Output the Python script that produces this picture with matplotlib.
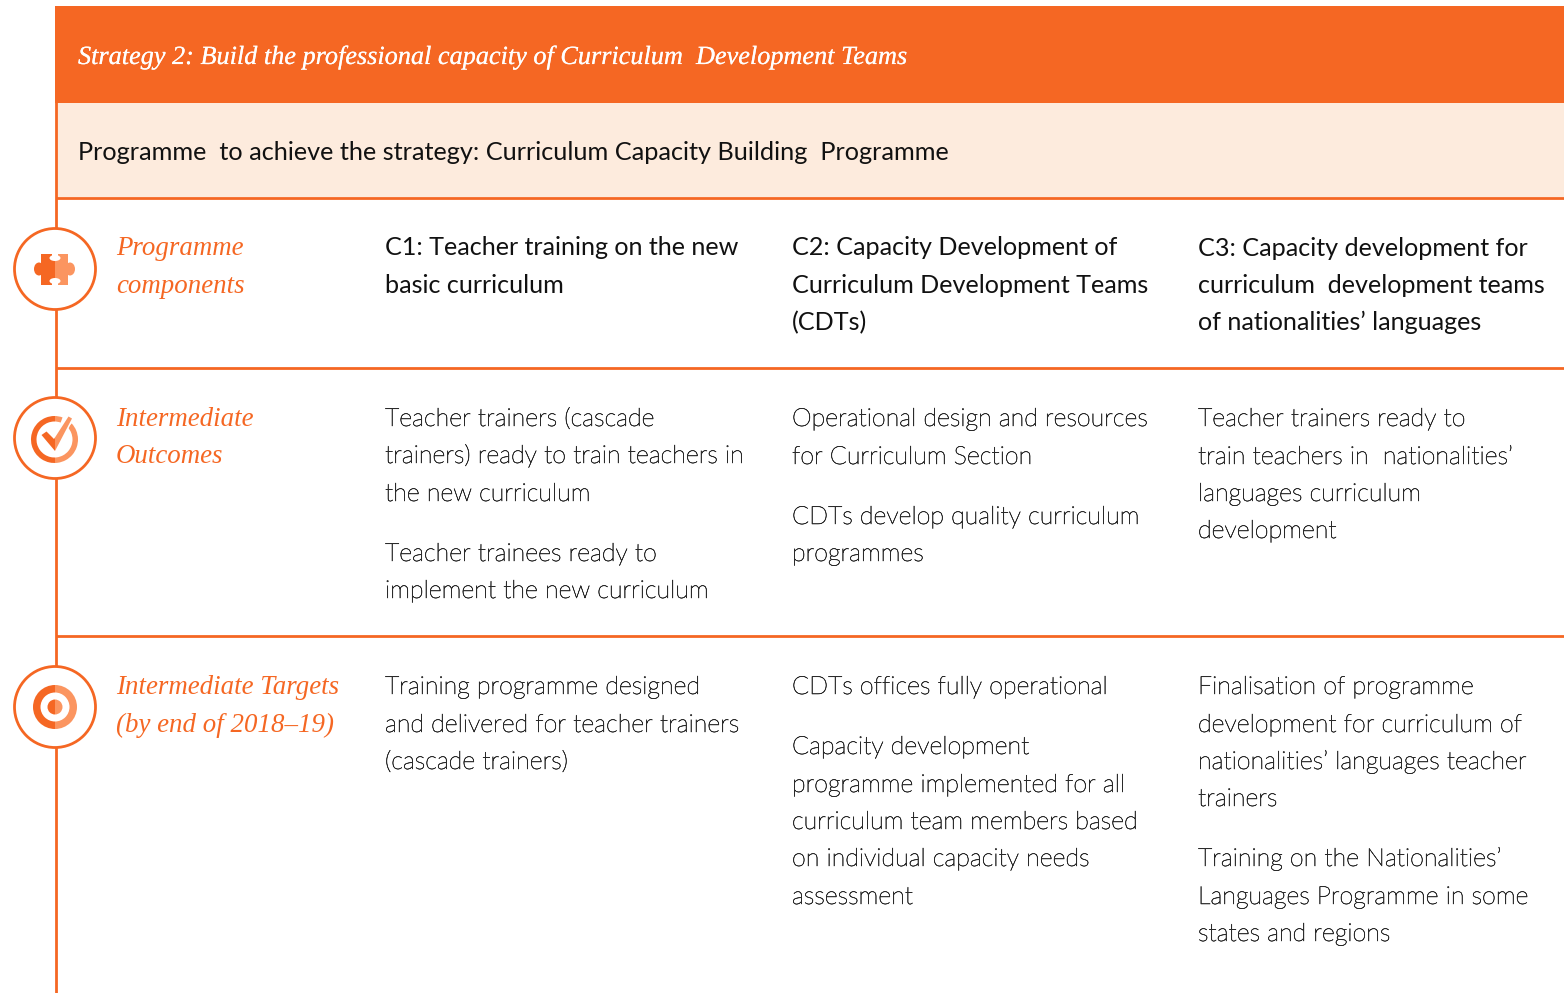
import matplotlib
matplotlib.use('Agg')
import matplotlib.pyplot as plt
import matplotlib.patheffects as pe
from matplotlib.patches import Rectangle, Circle, Ellipse, Polygon, Wedge

ORANGE = '#F56723'
LIGHT = '#FB9560'
CREAM = '#FDEBDD'
INK = '#111111'
BODY = '#2a2a2a'

header = 'Strategy 2: Build the professional capacity of Curriculum  Development Teams'
programme = 'Programme  to achieve the strategy: Curriculum Capacity Building  Programme'

row_titles = [
    ('Programme', 'components'),
    ('Intermediate', 'Outcomes'),
    ('Intermediate Targets', '(by end of 2018–19)'),
]
row_title_y = [(255, 293), (426, 463), (694, 732)]

c1_head = ['C1: Teacher training on the new', 'basic curriculum']
c2_head = ['C2: Capacity Development of', 'Curriculum Development Teams', '(CDTs)']
c3_head = ['C3: Capacity development for', 'curriculum  development teams', 'of nationalities’ languages']

c1_out = ['Teacher trainers (cascade', 'trainers) ready to train teachers in', 'the new curriculum',
          'Teacher trainees ready to', 'implement the new curriculum']
c2_out = ['Operational design and resources', 'for Curriculum Section',
          'CDTs develop quality curriculum', 'programmes']
c3_out = ['Teacher trainers ready to', 'train teachers in  nationalities’', 'languages curriculum', 'development']

c1_tgt = ['Training programme designed', 'and delivered for teacher trainers', '(cascade trainers)']
c2_tgt = ['CDTs offices fully operational',
          'Capacity development', 'programme implemented for all', 'curriculum team members based',
          'on individual capacity needs', 'assessment']
c3_tgt = ['Finalisation of programme', 'development for curriculum of', 'nationalities’ languages teacher', 'trainers',
          'Training on the Nationalities’', 'Languages Programme in some', 'states and regions']

col_x = [385, 792, 1198]


def lines(ax, x, ys, rows, **kw):
    for y, s in zip(ys, rows):
        ax.text(x, y, s, va='baseline', ha='left', **kw)


def split(ax, make, cx):
    # icons are dark on the left and lighter on the right
    for col, x0, x1 in ((ORANGE, 0, cx), (LIGHT, cx, 1564)):
        box = Rectangle((x0, 0), x1 - x0, 993, transform=ax.transData)
        for p in make():
            p.set(fc=col, ec='none')
            ax.add_patch(p)
            p.set_clip_path(box)


def puzzle(ax, cx, cy):
    split(ax, lambda: [Rectangle((cx - 14, cy - 15), 27, 31), Ellipse((cx - 16, cy), 10, 13),
                       Ellipse((cx + 15, cy), 10, 13)], cx)
    for dy in (-11, 12):
        ax.add_patch(Ellipse((cx, cy + dy), 11, 6, fc='white', ec='none'))
    ax.add_patch(Rectangle((cx - 3, cy - 16), 6, 5, fc='white', ec='none'))
    ax.add_patch(Rectangle((cx - 3, cy + 12), 6, 5, fc='white', ec='none'))


def check(ax, cx, cy):
    split(ax, lambda: [Wedge((cx - 0.5, cy + 1.5), 23.5, -43, 290, width=5.5)], cx)
    pts = [(41.5, 435), (46.5, 431.5), (54, 439), (68.5, 416.5), (72, 418.5), (55, 451)]
    ax.add_patch(Polygon(pts, closed=True, fc='white', ec='white', lw=2.2))
    split(ax, lambda: [Polygon(pts, closed=True)], cx)


def target(ax, cx, cy):
    split(ax, lambda: [Circle((cx, cy), 22)], cx)
    ax.add_patch(Circle((cx, cy), 14.5, fc='white', ec='none'))
    split(ax, lambda: [Circle((cx, cy), 7.5)], cx)


def main():
    fig = plt.figure(figsize=(15.64, 9.93), dpi=100)
    ax = fig.add_axes([0, 0, 1, 1])
    ax.set_xlim(0, 1564)
    ax.set_ylim(993, 0)
    ax.axis('off')

    ax.add_patch(Rectangle((55, 6), 1509, 96.5, fc=ORANGE, ec='none'))
    ax.add_patch(Rectangle((57, 103), 1507, 94, fc=CREAM, ec='none'))
    ax.plot([56, 56], [6, 993], color=ORANGE, lw=2, solid_capstyle='butt')
    for y in (197.5, 367.5, 635.5):
        ax.plot([56, 1564], [y, y], color=ORANGE, lw=2, solid_capstyle='butt')

    for cy in (269, 438, 707):
        ax.add_patch(Circle((55, cy), 40.5, fc='white', ec=ORANGE, lw=2, zorder=3))
    icons = fig.add_axes([0, 0, 1, 1], sharex=ax, sharey=ax)
    icons.axis('off')
    icons.patch.set_alpha(0)
    puzzle(icons, 55, 269)
    check(icons, 55, 438)
    target(icons, 55, 707)

    serif = dict(family='Liberation Serif', style='italic')
    ax.text(78, 64, header, color='white', fontsize=18.9, va='baseline', **serif,
            path_effects=[pe.withStroke(linewidth=0.1, foreground='white')])
    ax.text(78, 160, programme, color=INK, fontsize=18.2, va='baseline', family='Lato')

    for rows, ys in zip(row_titles, row_title_y):
        lines(ax, 116, ys, rows, color=ORANGE, fontsize=19.4, **serif)

    head = dict(color=INK, fontsize=18.1, family='Lato')
    lines(ax, col_x[0], [255, 293], c1_head, **head)
    lines(ax, col_x[1], [255, 293, 330], c2_head, **head)
    lines(ax, col_x[2], [256, 293, 330], c3_head, **head)

    # the Lato light face resolves to the hairline cut, so thicken it with a thin stroke
    body = dict(color=BODY, fontsize=18, family='Lato', fontweight='light',
                path_effects=[pe.withStroke(linewidth=0.4, foreground=BODY)])
    lines(ax, col_x[0], [426, 463, 501, 561, 598], c1_out, **body)
    lines(ax, col_x[1], [426, 464, 524, 561], c2_out, **body)
    lines(ax, col_x[2], [426, 464, 501, 538], c3_out, **body)
    lines(ax, col_x[0], [694, 732, 769], c1_tgt, **body)
    lines(ax, col_x[1], [694, 754, 792, 829, 866, 904], c2_tgt, **body)
    lines(ax, col_x[2], [694, 732, 769, 806, 866, 904, 941], c3_tgt, **body)

    fig.savefig('out.png', dpi=100)


if __name__ == '__main__':
    main()
